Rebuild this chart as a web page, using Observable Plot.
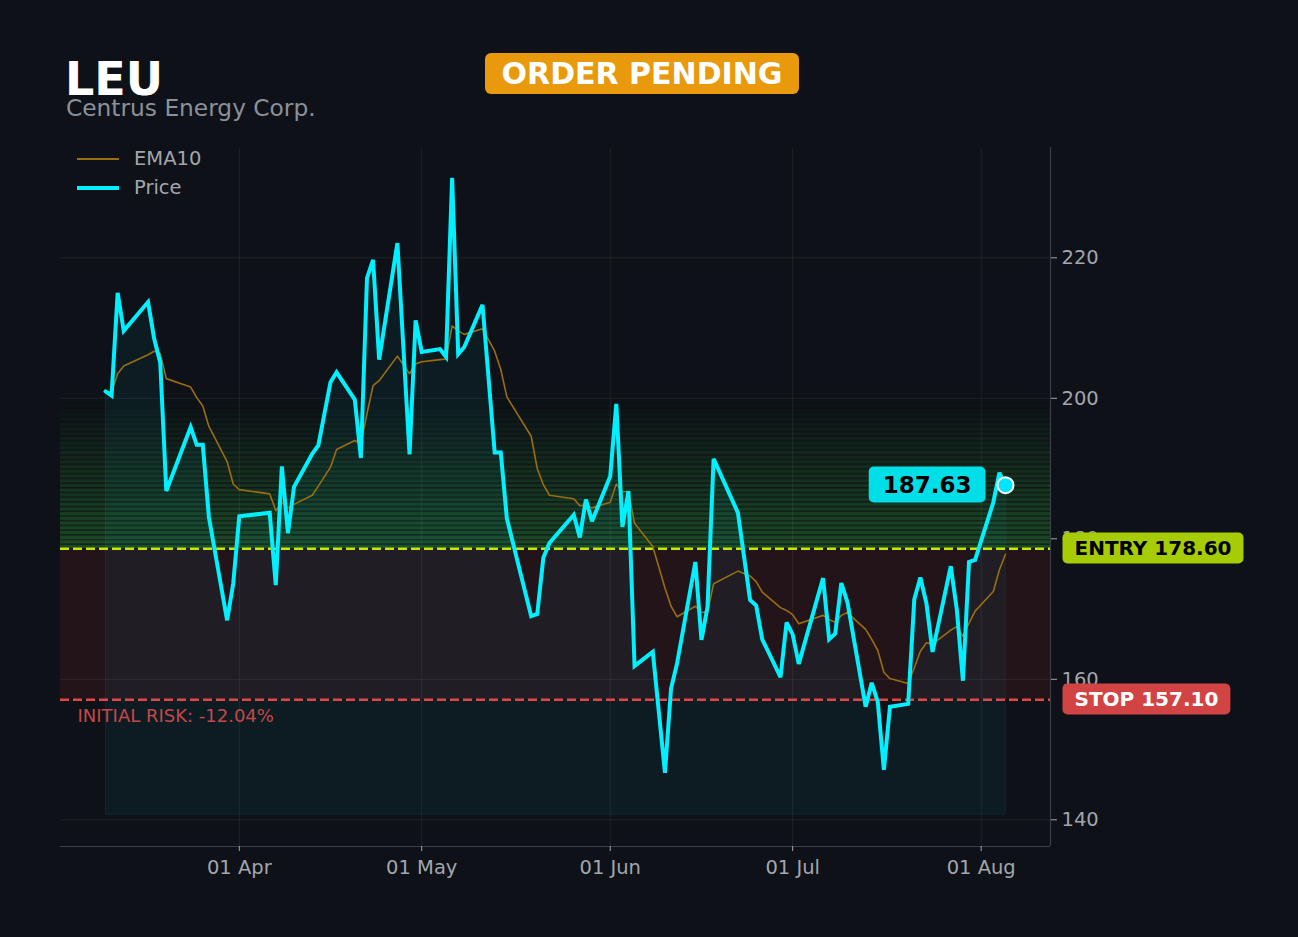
<!DOCTYPE html>
<html>
<head>
<meta charset="utf-8">
<script src="https://cdn.jsdelivr.net/npm/d3@7"></script>
<script src="https://cdn.jsdelivr.net/npm/@observablehq/plot@0.6"></script>
<style>
  html, body { margin: 0; padding: 0; background: #0e1117; }
  #wrap { position: relative; width: 1298px; height: 937px; background: #0e1117; font-family: "DejaVu Sans", sans-serif; overflow: hidden; }
  #chart { position: absolute; left: 0; top: 0; }
  .title { position: absolute; left: 65px; top: 63px; font-size: 46px; font-weight: bold; color: #ffffff; line-height: 32px; height: 32px; }
  .subtitle { position: absolute; left: 66px; top: 98px; font-size: 23.3px; color: #8c9099; line-height: 20px; height: 20px; }
  .badge { position: absolute; left: 485px; top: 53px; width: 314px; height: 41px; border-radius: 6px; background: #e8990c; color: #fff; font-weight: bold; font-size: 30px; display: flex; align-items: center; justify-content: center; line-height: 1; }
  .legend { position: absolute; left: 77px; top: 144px; color: #a3a6ad; font-size: 19.5px; }
  .legend .row { position: relative; height: 29px; display: flex; align-items: center; }
  .legend .sw { width: 42px; margin-right: 15px; }
</style>
</head>
<body>
<div id="wrap">
  <div id="chart"></div>
  <div class="title">LEU</div>
  <div class="subtitle">Centrus Energy Corp.</div>
  <div class="badge">ORDER PENDING</div>
  <div class="legend">
    <div class="row"><svg class="sw" width="42" height="4"><line x1="0" x2="42" y1="2" y2="2" stroke="#9a6d12" stroke-width="2"/></svg><span>EMA10</span></div>
    <div class="row"><svg class="sw" width="42" height="6"><line x1="0" x2="42" y1="3" y2="3" stroke="#00f0ff" stroke-width="4"/></svg><span>Price</span></div>
  </div>
</div>
<script>
// ---------------- data ----------------
const dates = [
  "2025-03-10","2025-03-11","2025-03-12","2025-03-13","2025-03-17","2025-03-18","2025-03-19","2025-03-20","2025-03-24","2025-03-25",
  "2025-03-26","2025-03-27","2025-03-30","2025-03-31","2025-04-01","2025-04-06","2025-04-07","2025-04-08","2025-04-09","2025-04-10",
  "2025-04-13","2025-04-14","2025-04-16","2025-04-17","2025-04-20","2025-04-21","2025-04-22","2025-04-23","2025-04-24","2025-04-27",
  "2025-04-29","2025-04-30","2025-05-01","2025-05-04","2025-05-05","2025-05-06","2025-05-07","2025-05-08","2025-05-11","2025-05-13",
  "2025-05-14","2025-05-15","2025-05-19","2025-05-20","2025-05-21","2025-05-22","2025-05-26","2025-05-27","2025-05-28","2025-05-29",
  "2025-06-01","2025-06-02","2025-06-03","2025-06-04","2025-06-05","2025-06-08","2025-06-10","2025-06-11","2025-06-12","2025-06-15",
  "2025-06-16","2025-06-17","2025-06-18","2025-06-22","2025-06-24","2025-06-25","2025-06-26","2025-06-29","2025-06-30","2025-07-01",
  "2025-07-02","2025-07-06","2025-07-07","2025-07-08","2025-07-09","2025-07-10","2025-07-13","2025-07-14","2025-07-15","2025-07-16",
  "2025-07-17","2025-07-20","2025-07-21","2025-07-22","2025-07-23","2025-07-24","2025-07-27","2025-07-28","2025-07-29","2025-07-30",
  "2025-07-31","2025-08-03","2025-08-04","2025-08-05"
];
const price = [
  201.0, 200.4, 215.0, 209.6, 213.7, 208.5, 205.1, 186.8, 195.9, 193.4,
  193.4, 183.1, 168.4, 173.6, 183.2, 183.7, 173.4, 190.3, 180.8, 187.4,
  192.1, 193.3, 202.3, 203.7, 199.8, 191.5, 217.1, 219.7, 205.5, 222.1,
  192.0, 211.1, 206.6, 207.0, 205.9, 231.4, 206.3, 207.3, 213.3, 192.3,
  192.3, 182.9, 169.0, 169.3, 177.3, 179.4, 183.4, 180.2, 185.6, 182.5,
  188.9, 199.2, 181.7, 186.8, 161.9, 163.9, 146.7, 158.7, 162.3, 176.7,
  165.6, 170.3, 191.4, 183.7, 171.3, 170.5, 165.7, 160.3, 168.1, 166.4,
  162.2, 174.4, 165.7, 166.5, 173.7, 171.0, 156.1, 159.5, 156.8, 147.1,
  156.1, 156.5, 171.4, 174.5, 170.8, 163.9, 176.1, 169.9, 159.8, 176.7,
  177.0, 185.2, 189.4, 187.63
];
const ema10 = [
  201.0, 200.9, 203.5, 204.6, 206.2, 206.7, 206.4, 202.8, 201.6, 200.1,
  198.9, 196.0, 191.0, 187.8, 187.0, 186.4, 184.0, 185.2, 184.4, 184.9,
  186.2, 187.5, 190.2, 192.7, 194.0, 193.5, 197.8, 201.8, 202.5, 206.0,
  203.5, 204.9, 205.2, 205.5, 205.6, 210.3, 209.6, 209.1, 209.9, 206.7,
  204.1, 200.2, 194.6, 190.0, 187.7, 186.2, 185.7, 184.7, 184.8, 184.4,
  185.2, 187.8, 186.7, 186.7, 182.2, 178.9, 173.0, 170.4, 168.9, 170.4,
  169.5, 169.6, 173.6, 175.4, 174.7, 173.9, 172.4, 170.2, 169.8, 169.2,
  167.9, 169.1, 168.5, 168.1, 169.1, 169.5, 167.1, 165.7, 164.1, 161.0,
  160.1, 159.4, 161.6, 164.0, 165.2, 165.0, 167.0, 167.5, 166.1, 168.0,
  169.7, 172.5, 175.6, 177.8
];
const monthTicks = ["2025-04-01","2025-05-01","2025-06-01","2025-07-01","2025-08-01"];
const yTicks = [140, 160, 180, 200, 220];
const ENTRY = 178.60;
const STOP = 157.10;
const TARGET = 200.0;
const AREA_BASE = 140.8;

// ---------------- build ----------------
const data = dates.map((d, i) => ({date: new Date(d), price: price[i], ema: ema10[i]}));
const last = data[data.length - 1];
const ticksX = monthTicks.map(d => new Date(d));
const XD = [new Date("2025-03-02T14:24:00Z"), new Date("2025-08-12T09:36:00Z")];
const YD = [136.2, 235.7];

// striped target zone (decoration)
const NB = 32;
const bh = (TARGET - ENTRY) / NB;
const bands = d3.range(NB).map(i => {
  const a = 0.31 * (1 - i / NB);
  const p = 0.37 * a;
  const q = 1 - (1 - a) / (1 - p);
  return {x1: XD[0], x2: XD[1], y1: ENTRY + i * bh, y2: ENTRY + (i + 1) * bh, p, q};
});
const riskZone = [{x1: XD[0], x2: XD[1], y1: STOP, y2: ENTRY}];
const riskPct = (STOP - ENTRY) / ENTRY * 100;
const priceLabel = last.price.toFixed(2);
const entryLabel = `ENTRY ${ENTRY.toFixed(2)}`;
const stopLabel = `STOP ${STOP.toFixed(2)}`;

const plot = Plot.plot({
  width: 1298,
  height: 937,
  marginLeft: 60,
  marginRight: 248,
  marginTop: 147,
  marginBottom: 91,
  style: {background: "transparent", color: "#a3a6ad", fontFamily: "DejaVu Sans, sans-serif", fontSize: "19.5px", overflow: "visible"},
  x: {type: "utc", domain: XD},
  y: {domain: YD},
  marks: [
    Plot.rect(bands, {x1: "x1", x2: "x2", y1: "y1", y2: "y2", fill: "#3cc846", fillOpacity: d => d.p}),
    Plot.rect(bands, {x1: "x1", x2: "x2", y1: "y1", y2: "y2", fill: "#3cc846", fillOpacity: d => d.q, insetTop: 1.6}),
    Plot.rect(riskZone, {x1: "x1", x2: "x2", y1: "y1", y2: "y2", fill: "#dc3232", fillOpacity: 0.1}),
    Plot.areaY(data, {x: "date", y1: AREA_BASE, y2: "price", fill: "#00e5ff", fillOpacity: 0.05}),
    Plot.ruleY([AREA_BASE], {x1: data[0].date, x2: last.date, stroke: "#00e5ff", strokeOpacity: 0.1}),
    Plot.ruleX([data[0], last], {x: "date", y1: AREA_BASE, y2: "price", stroke: "#00e5ff", strokeOpacity: 0.08}),
    Plot.ruleX(ticksX, {stroke: "#ffffff", strokeOpacity: 0.07}),
    Plot.ruleY(yTicks, {stroke: "#ffffff", strokeOpacity: 0.07}),
    Plot.ruleY([YD[0]], {stroke: "#3b3f47", strokeWidth: 1.2}),
    Plot.ruleX([XD[1]], {stroke: "#3b3f47", strokeWidth: 1.2}),
    Plot.ruleY([ENTRY], {stroke: "#c8e600", strokeWidth: 2.5, strokeDasharray: "9,4"}),
    Plot.ruleY([STOP], {stroke: "#e04848", strokeWidth: 2.5, strokeDasharray: "9,4"}),
    Plot.lineY(data, {x: "date", y: "ema", stroke: "#9a6d12", strokeWidth: 1.6}),
    Plot.lineY(data, {x: "date", y: "price", stroke: "#00f0ff", strokeWidth: 4, strokeLinejoin: "miter", strokeMiterlimit: 3}),
    Plot.dot([last], {x: "date", y: "price", r: 8, fill: "#00e5ff", stroke: "#ffffff", strokeWidth: 2}),
    Plot.axisX(ticksX, {tickFormat: d3.utcFormat("%d %b"), tickSize: 5, tickPadding: 9, fontSize: 19.5, stroke: "#a3a6ad", fill: "#a3a6ad"}),
    Plot.axisY(yTicks, {anchor: "right", tickSize: 6, tickPadding: 5, fontSize: 19.5, stroke: "#a3a6ad", fill: "#a3a6ad"}),
    Plot.text([STOP], {y: d => d, frameAnchor: "left", dx: 17, dy: 17, textAnchor: "start", text: () => `INITIAL RISK: ${riskPct.toFixed(2)}%`, fill: "#c44848", fontSize: 18}),
    Plot.text([last], {x: "date", y: "price", text: () => priceLabel, textAnchor: "end", dx: -34, fontSize: 23, fontWeight: "bold", fill: "#000000"}),
    Plot.text([ENTRY], {y: d => d, frameAnchor: "right", dx: 24, textAnchor: "start", text: () => entryLabel, fontSize: 20, fontWeight: "bold", fill: "#000000"}),
    Plot.text([STOP], {y: d => d, frameAnchor: "right", dx: 24, textAnchor: "start", text: () => stopLabel, fontSize: 20, fontWeight: "bold", fill: "#ffffff"})
  ]
});
document.getElementById("chart").appendChild(plot);

function addBadge(label, fill, padX, padY) {
  Array.from(plot.querySelectorAll("text")).filter(t => t.textContent === label).forEach(t => {
    const b = t.getBBox();
    const r = document.createElementNS("http://www.w3.org/2000/svg", "rect");
    r.setAttribute("x", b.x - padX);
    r.setAttribute("y", b.y - padY);
    r.setAttribute("width", b.width + 2 * padX);
    r.setAttribute("height", b.height + 2 * padY);
    r.setAttribute("rx", 5);
    r.setAttribute("fill", fill);
    const tr = t.getAttribute("transform");
    if (tr) r.setAttribute("transform", tr);
    t.parentNode.insertBefore(r, t);
  });
}
addBadge(priceLabel, "#00dfe8", 14, 5);
addBadge(entryLabel, "#a6cc06", 12, 3.5);
addBadge(stopLabel, "#d24444", 12, 3.5);
</script>
</body>
</html>
